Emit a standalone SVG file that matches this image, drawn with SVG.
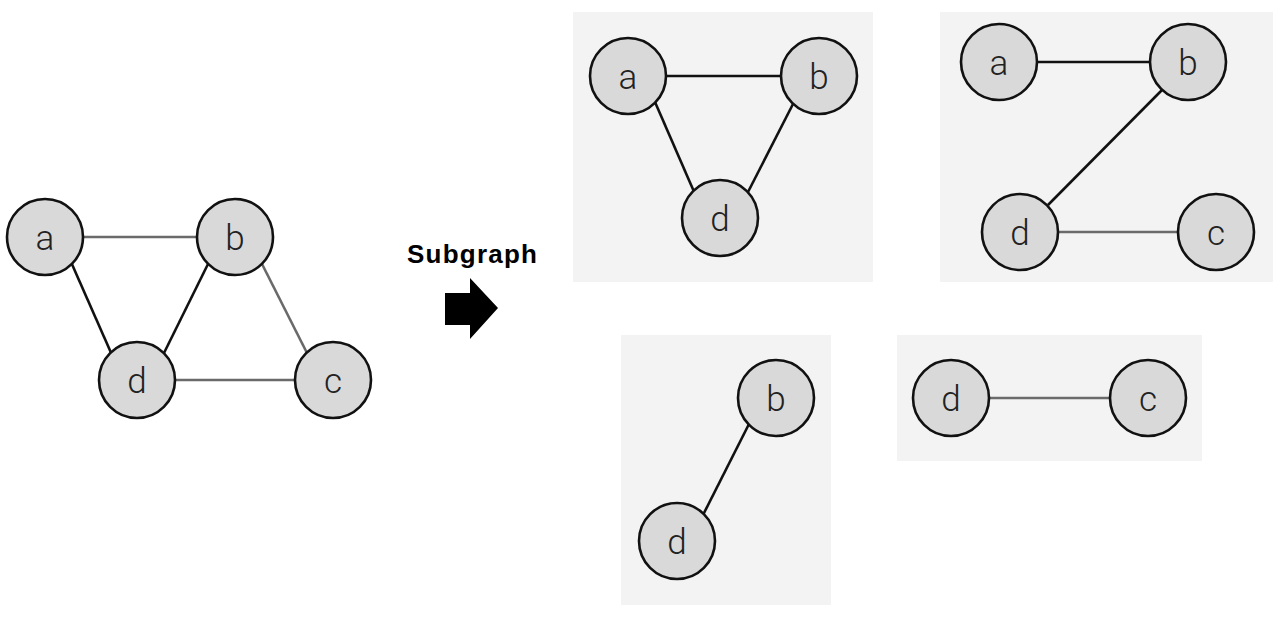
<svg xmlns="http://www.w3.org/2000/svg" width="1280" height="619" viewBox="0 0 1280 619">
<style>
.panel{fill:#f3f3f3}
.node circle{fill:#d9d9d9;stroke:#111;stroke-width:2.6}
.node text{font-family:Roboto,"Helvetica Neue","Liberation Sans",Arial,sans-serif;font-weight:300;font-size:35px;fill:#222;text-anchor:middle;dominant-baseline:central}
.dark{stroke:#111;stroke-width:2.6}
.gray{stroke:#6a6a6a;stroke-width:2.6}
.title{font-family:"Liberation Sans",Arial,Helvetica,sans-serif;font-weight:bold;font-size:26px;fill:#000}
</style>
<rect width="1280" height="619" fill="#fff"/>
<g id="panels">
<rect class="panel" x="573" y="12" width="300" height="270"/>
<rect class="panel" x="940" y="12" width="333" height="270"/>
<rect class="panel" x="621" y="335" width="210" height="270"/>
<rect class="panel" x="897" y="335" width="305" height="126"/>
</g>
<g id="connectors">
<line class="gray" x1="80" y1="237" x2="200" y2="237"/>
<line class="dark" x1="71" y1="262" x2="112" y2="355"/>
<line class="dark" x1="209" y1="262" x2="163" y2="355"/>
<line class="gray" x1="261" y1="262" x2="308" y2="355"/>
<line class="gray" x1="172" y1="380" x2="298" y2="380"/>
<line class="dark" x1="664" y1="76" x2="783" y2="76"/>
<line class="dark" x1="655" y1="102" x2="695" y2="194"/>
<line class="dark" x1="793" y1="104" x2="747" y2="194"/>
<line class="dark" x1="1035" y1="62" x2="1152" y2="62"/>
<line class="dark" x1="1163" y1="89" x2="1048" y2="205"/>
<line class="gray" x1="1056" y1="232" x2="1180" y2="232"/>
<line class="dark" x1="749" y1="424" x2="703" y2="515"/>
<line class="gray" x1="987" y1="398" x2="1112" y2="398"/>
</g>
<g id="main-a" class="node"><circle cx="45" cy="237" r="38"/><text x="45" y="238">a</text></g>
<g id="main-b" class="node"><circle cx="235" cy="237" r="38"/><text x="235" y="238">b</text></g>
<g id="main-d" class="node"><circle cx="137" cy="380" r="38"/><text x="137" y="381">d</text></g>
<g id="main-c" class="node"><circle cx="333" cy="380" r="38"/><text x="333" y="381">c</text></g>
<g id="label-subgraph"><text class="title" x="407" y="263" textLength="130" lengthAdjust="spacing">Subgraph</text></g>
<g id="arrow"><polygon points="445,293 470,293 470,278 498,308 470,339 470,325 445,325" fill="#000"/></g>
<g id="p1-a" class="node"><circle cx="628" cy="76" r="38"/><text x="628" y="77">a</text></g>
<g id="p1-b" class="node"><circle cx="819" cy="76" r="38"/><text x="819" y="77">b</text></g>
<g id="p1-d" class="node"><circle cx="720" cy="218" r="38"/><text x="720" y="219">d</text></g>
<g id="p2-a" class="node"><circle cx="999" cy="62" r="38"/><text x="999" y="63">a</text></g>
<g id="p2-b" class="node"><circle cx="1188" cy="62" r="38"/><text x="1188" y="63">b</text></g>
<g id="p2-d" class="node"><circle cx="1020" cy="232" r="38"/><text x="1020" y="233">d</text></g>
<g id="p2-c" class="node"><circle cx="1216" cy="232" r="38"/><text x="1216" y="233">c</text></g>
<g id="p3-b" class="node"><circle cx="776" cy="398" r="38"/><text x="776" y="399">b</text></g>
<g id="p3-d" class="node"><circle cx="677" cy="541" r="38"/><text x="677" y="542">d</text></g>
<g id="p4-d" class="node"><circle cx="951" cy="398" r="38"/><text x="951" y="399">d</text></g>
<g id="p4-c" class="node"><circle cx="1148" cy="398" r="38"/><text x="1148" y="399">c</text></g>
</svg>
